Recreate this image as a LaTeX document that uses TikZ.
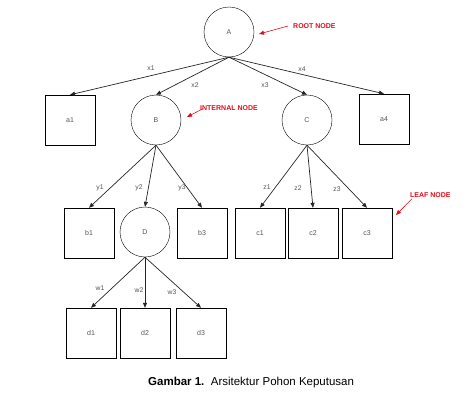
\documentclass[tikz,border=0pt]{standalone}
\usepackage{fontspec}
\setmainfont{Liberation Sans}
\usetikzlibrary{arrows.meta,positioning}
\definecolor{lblgray}{rgb}{0.33,0.33,0.33}
\definecolor{notered}{rgb}{0.90,0.05,0.10}
\begin{document}
\begin{tikzpicture}[x=1pt, y=-1pt,
      inode/.style={draw, circle, minimum size=50pt, inner sep=0pt,
                    font=\fontsize{7}{8}\selectfont, text=lblgray},
      leaf/.style={draw, minimum width=50pt, minimum height=50pt, inner sep=0pt,
                   font=\fontsize{7}{8}\selectfont, text=lblgray},
      lbl/.style={font=\fontsize{6.8}{8}\selectfont, text=lblgray, inner sep=1pt},
      note/.style={font=\fontsize{7}{8}\selectfont\bfseries, text=notered, inner sep=1pt},
      arr/.style={-{Triangle[length=5pt,width=4pt]}, line width=0.7pt, color=black!85},
      notearr/.style={-{Triangle[length=5pt,width=4pt]}, line width=0.6pt, color=notered}
  ]
    \useasboundingbox (0,0) rectangle (476,404);
    % level 0
    \node[inode] (A) at (229,32) {A};
    % level 1
    \node[leaf] (a1) at (70,120) {a1};
    \node[inode] (B) at (156,120) {B};
    \node[inode] (C) at (307,120) {C};
    \node[leaf] (a4) at (384,119) {a4};
    % level 2
    \node[leaf] (b1) at (89,233) {b1};
    \node[inode] (D) at (145,232) {D};
    \node[leaf] (b3) at (202,233) {b3};
    \node[leaf] (c1) at (260,233) {c1};
    \node[leaf] (c2) at (313,233) {c2};
    \node[leaf] (c3) at (367,233) {c3};
    % level 3
    \node[leaf] (d1) at (91,333) {d1};
    \node[leaf] (d2) at (145,333) {d2};
    \node[leaf] (d3) at (201,333) {d3};
    % edges
    \draw[arr] (A.south) -- (a1.north);
    \draw[arr] (A.south) -- (B.north);
    \draw[arr] (A.south) -- (C.north);
    \draw[arr] (A.south) -- (a4.north);
    \foreach \t in {b1,D,b3} \draw[arr] (B.south) -- (\t.north);
    \foreach \t in {c1,c2,c3} \draw[arr] (C.south) -- (\t.north);
    \foreach \t in {d1,d2,d3} \draw[arr] (D.south) -- (\t.north);
    % edge labels
    \node[lbl] (lx1) at (151,68) {x1};
    \node[lbl] (lx2) at (195,85) {x2};
    \node[lbl] (lx3) at (265,85) {x3};
    \node[lbl] (lx4) at (302,69) {x4};
    \node[lbl] (ly1) at (100,188) {y1};
    \node[lbl] (ly2) at (139,188) {y2};
    \node[lbl] (ly3) at (182,188) {y3};
    \node[lbl] (lz1) at (267,187) {z1};
    \node[lbl] (lz2) at (298,188) {z2};
    \node[lbl] (lz3) at (337,189) {z3};
    \node[lbl] (lw1) at (100,288) {w1};
    \node[lbl] (lw2) at (139,290) {w2};
    \node[lbl] (lw3) at (172,292) {w3};
    % notes
    \node[note, anchor=west] (nroot) at (292,26) {ROOT NODE};
    \coordinate (troot) at (259,34);
    \draw[notearr] (nroot.west) ++(-4pt,0) -- (troot);
    \node[note, anchor=west] (nint) at (199,108) {INTERNAL NODE};
    \coordinate (tint) at (187,117);
    \draw[notearr] (nint.south west) ++(4pt,3pt) -- (tint);
    \node[note, anchor=west] (nleaf) at (409,195) {LEAF NODE};
    \coordinate (tleaf) at (396,215);
    \draw[notearr] (nleaf.south west) ++(3pt,0) -- (tleaf);
    % caption
    \node[font=\fontsize{11.5}{13}\selectfont, anchor=west, inner sep=0pt] (cap) at (148,383)
      {\textbf{Gambar 1.}\ \ Arsitektur Pohon Keputusan};
\end{tikzpicture}
\end{document}
